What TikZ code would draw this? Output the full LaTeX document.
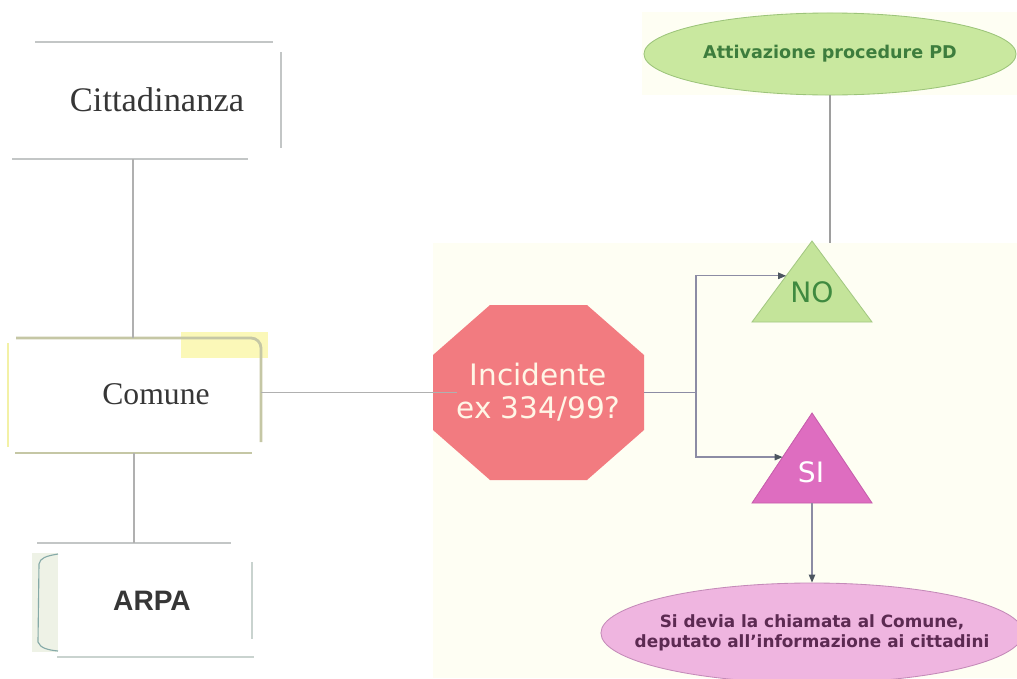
\documentclass[tikz,border=0pt]{standalone}
\usepackage{fontspec}
\setmainfont{Liberation Serif}
\newfontfamily\casual{DejaVu Sans}
\newfontfamily\arial{Liberation Sans}
\usetikzlibrary{arrows.meta,shapes.geometric,calc}
\definecolor{rulegray}{HTML}{C3C6C6}
\definecolor{rulegreen}{HTML}{C9D3CF}
\definecolor{linkgray}{HTML}{B0B0B0}
\definecolor{oliveline}{HTML}{C5C7A5}
\definecolor{yellowline}{HTML}{F3F1A6}
\definecolor{yellowpatch}{HTML}{FBF8B8}
\definecolor{bracketfill}{HTML}{EEF2E6}
\definecolor{bracketline}{HTML}{86AAA8}
\definecolor{textgray}{HTML}{363636}
\definecolor{panel}{HTML}{FEFEF3}
\definecolor{octred}{HTML}{F27B80}
\definecolor{octtext}{HTML}{FFF6E6}
\definecolor{nofill}{HTML}{C4E49A}
\definecolor{noline}{HTML}{A3C882}
\definecolor{nogreen}{HTML}{3F8A40}
\definecolor{sifill}{HTML}{DE6DC0}
\definecolor{siline}{HTML}{C65CAB}
\definecolor{pinkfill}{HTML}{EFB5E0}
\definecolor{pinkline}{HTML}{C48AB8}
\definecolor{pinktext}{HTML}{5C2A52}
\definecolor{greenfill}{HTML}{C9E89F}
\definecolor{greenline}{HTML}{9CC47A}
\definecolor{greentext}{HTML}{3D7D3D}
\definecolor{flowgray}{HTML}{8C8CA4}
\definecolor{arrowdark}{HTML}{4C5560}
\tikzset{every node/.style={inner sep=0pt},
  rule/.style={draw=rulegray, line width=1.4pt},
  link/.style={draw=linkgray, line width=1.4pt},
  oliverule/.style={draw=oliveline, line width=2pt},
  flowline/.style={draw=flowgray, line width=0.9pt},
  flow/.style={flowline, -{Triangle[length=0.2cm, width=0.16cm, color=arrowdark]}},
  serifbig/.style={font=\fontsize{24.5}{29}\selectfont, text=textgray},
  pill/.style={ellipse, line width=0.6pt, align=center}}

\begin{document}
\begin{tikzpicture}[x=0.025cm, y=-0.025cm]
  \useasboundingbox (0,0) rectangle (1017,678);
  \fill[panel] (433,243) rectangle (1017,678);
  \fill[panel] (642,12) rectangle (1017,95);

  \node[serifbig] (citt) at (157,100) {Cittadinanza};
  \draw[rule] (35,42) -- (273,42);
  \draw[rule] (281,52) -- (281,148);
  \draw[rule] (12,159) -- (248,159);

  \fill[yellowpatch] (181,332) rectangle (268,358);
  \node[serifbig, font=\fontsize{22.5}{27}\selectfont] (comune) at (156,394) {Comune};
  \draw[oliverule, rounded corners=0.25cm] (16,338) -- (261,338) -- (261,442);
  \draw[draw=yellowline, line width=2pt] (8,343) -- (8,447);
  \draw[oliverule] (15,453) -- (252,453);

  \fill[bracketfill] (32,553) rectangle (58,652);
  \draw[draw=bracketline, line width=0.8pt] (58,554) .. controls (46,556) and (40,558) .. (39,564)
    -- (38,642) .. controls (40,648) and (48,650) .. (58,651);
  \node[font=\arial\bfseries\fontsize{20}{24}\selectfont, text=textgray] (arpa) at (152,601) {ARPA};
  \draw[rule] (37,543) -- (231,543);
  \draw[rule, draw=rulegreen] (252,562) -- (252,639);
  \draw[rule, draw=rulegreen] (57,657) -- (254,657);

  \coordinate (citt-foot) at (133,159);
  \coordinate (comune-head) at (133,338);
  \coordinate (comune-foot) at (134,453);
  \coordinate (arpa-head) at (134,543);
  \coordinate (comune-side) at (261,392.5);
  \draw[link] (citt-foot) -- (comune-head);
  \draw[link] (comune-foot) -- (arpa-head);

  \fill[octred] (433,355) -- (490,305) -- (587,305) -- (644,355) -- (644,430) -- (587,480) -- (490,480) -- (433,430) -- cycle;
  \node[minimum width=5.275cm, minimum height=4.375cm, align=center, text=octtext,
    font=\casual\fontsize{21}{23.5}\selectfont] (oct) at (538.5,392.5) {Incidente\\ex 334/99?};
  \draw[link, line width=1.1pt] (comune-side) -- ([xshift=0.6cm]oct.west);

  \node[pill, fill=greenfill, draw=greenline, minimum width=9.3cm, minimum height=2.05cm,
    text=greentext, font=\casual\bfseries\fontsize{12.5}{15}\selectfont] (attiva) at (830,54) {Attivazione procedure PD};

  \coordinate (no-top) at (812,241);
  \coordinate (no-left) at (752,322);
  \coordinate (no-right) at (872,322);
  \filldraw[fill=nofill, draw=noline, line width=0.6pt] (no-top) -- (no-right) -- (no-left) -- cycle;
  \node[font=\casual\fontsize{20}{24}\selectfont, text=nogreen] (no) at (812,292) {NO};
  \coordinate (no-drop) at (830,243);
  \draw[link, line width=1.3pt, draw=linkgray!90!black] (attiva.south) -- (no-drop);

  \coordinate (si-top) at (812,413);
  \coordinate (si-left) at (752,503);
  \coordinate (si-right) at (872,503);
  \filldraw[fill=sifill, draw=siline, line width=0.6pt] (si-top) -- (si-right) -- (si-left) -- cycle;
  \node[font=\casual\fontsize{20}{24}\selectfont, text=white] (si) at (811,472) {SI};

  \node[pill, fill=pinkfill, draw=pinkline, minimum width=10.5cm, minimum height=2.5cm, inner xsep=-0.7cm,
    text=pinktext, font=\casual\bfseries\fontsize{12}{14.5}\selectfont] (esito) at (812,633)
    {Si devia la chiamata al Comune,\\deputato all’informazione ai cittadini};

  \coordinate (fork) at (696,392.5);
  \draw[flowline] (oct.east) -- (fork);
  \draw[flow] (fork) |- ($(no-top)!0.43!(no-left)$);
  \draw[flow] (fork) |- ($(si-top)!0.49!(si-left)$);
  \draw[flow] ($(si-left)!0.5!(si-right)$) -- (esito.north);
\end{tikzpicture}
\end{document}
